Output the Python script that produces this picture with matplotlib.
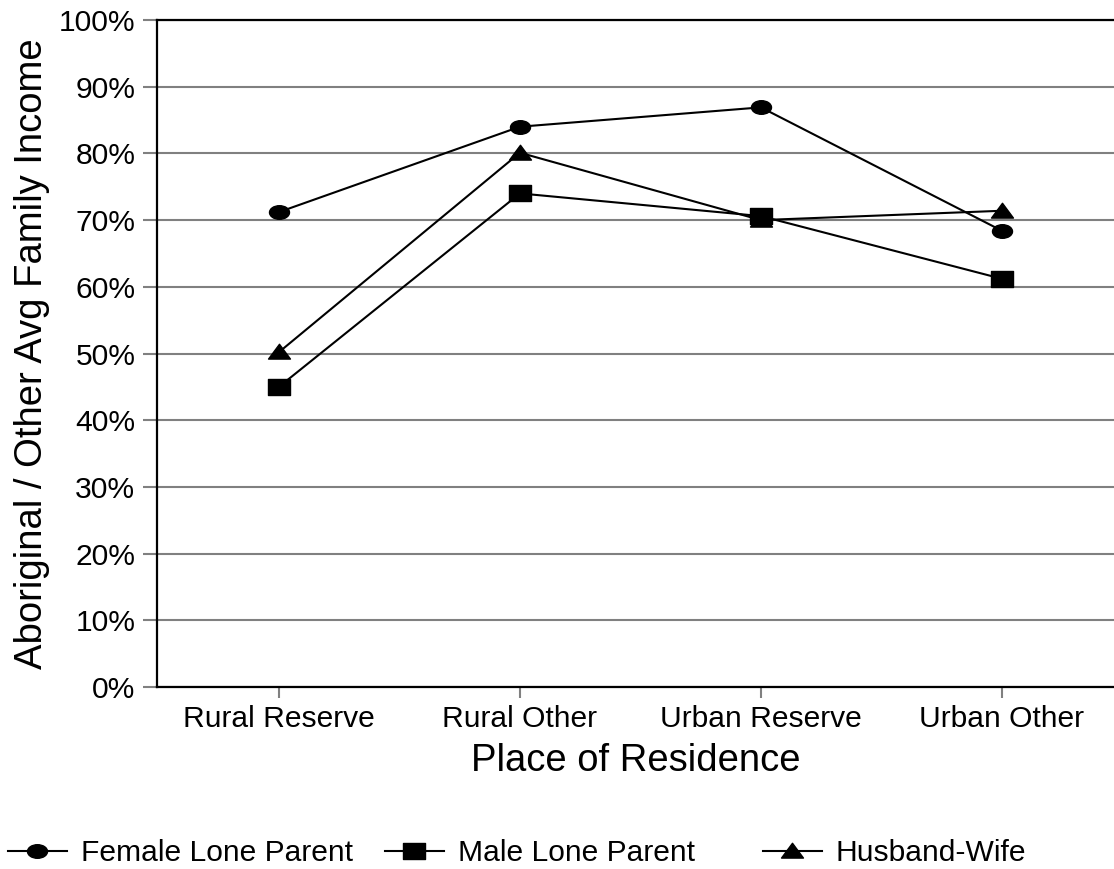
import matplotlib
matplotlib.use("Agg")
import matplotlib.pyplot as plt
from matplotlib.path import Path
from matplotlib.transforms import Affine2D
from matplotlib.lines import Line2D

plt.rcParams["font.family"] = ["Liberation Sans", "DejaVu Sans"]

places = ["Rural Reserve", "Rural Other", "Urban Reserve", "Urban Other"]
female_lone = [71.2, 84.0, 86.9, 68.4]
male_lone = [45.0, 74.0, 70.6, 61.2]
husband_wife = [50.2, 80.1, 70.0, 71.4]
yticks = list(range(0, 101, 10))

# markers in the source are a little squashed (wider than tall)
ellipse = Path.unit_circle().transformed(Affine2D().scale(1.0, 0.68))
rect = Path([(-1, -0.72), (1, -0.72), (1, 0.72), (-1, 0.72), (-1, -0.72)],
            [Path.MOVETO, Path.LINETO, Path.LINETO, Path.LINETO, Path.CLOSEPOLY])
tri = Path([(-1, -0.6), (1, -0.6), (0, 0.75), (-1, -0.6)],
           [Path.MOVETO, Path.LINETO, Path.LINETO, Path.CLOSEPOLY])

fig = plt.figure(figsize=(11.14, 8.69), dpi=100)
ax = fig.add_axes([0.1409, 0.2094, 0.8591, 0.7676])

styles = [(female_lone, ellipse, 14.4), (male_lone, rect, 15.8), (husband_wife, tri, 15.8)]
x = list(range(len(places)))
for vals, mk, ms in styles:
    ax.plot(x, vals, color="black", lw=1.5, marker=mk, markersize=ms, zorder=3)

ax.set_xlim(-0.506, 3.465)
ax.set_ylim(0, 100)
ax.set_yticks(yticks)
ax.set_yticklabels([f"{v}%" for v in yticks])
ax.set_xticks(x)
ax.set_xticklabels(places)
ax.yaxis.grid(True, color="#808080", lw=1.5)
ax.set_axisbelow(True)
for s in ax.spines.values():
    s.set_color("black")
    s.set_linewidth(1.6)
ax.spines["right"].set_visible(False)
ax.tick_params(axis="y", length=10, width=1.5, color="#808080", labelsize=21.6, pad=5.5)
ax.tick_params(axis="x", length=8, width=1.5, color="#808080", labelsize=21.6, pad=5)

ax.set_xlabel("Place of Residence", fontsize=27.5, labelpad=7)
ax.set_ylabel("Aboriginal / Other Avg Family Income", fontsize=27.5, labelpad=6)

labels = ["Female Lone Parent", "Male Lone Parent", "Husband-Wife"]
lx = [8, 385, 763]  # handle starts, px
for (vals, mk, ms), lab, px in zip(styles, labels, lx):
    h = Line2D([0], [0], color="black", lw=1.5, marker=mk, markersize=ms)
    fig.legend([h], [lab], loc="center left", bbox_to_anchor=(px / 1114, 1 - 853 / 869),
               frameon=False, fontsize=21.6, handlelength=1.95,
               handletextpad=0.48, borderaxespad=0, borderpad=0)

fig.savefig("out.png", dpi=100)
